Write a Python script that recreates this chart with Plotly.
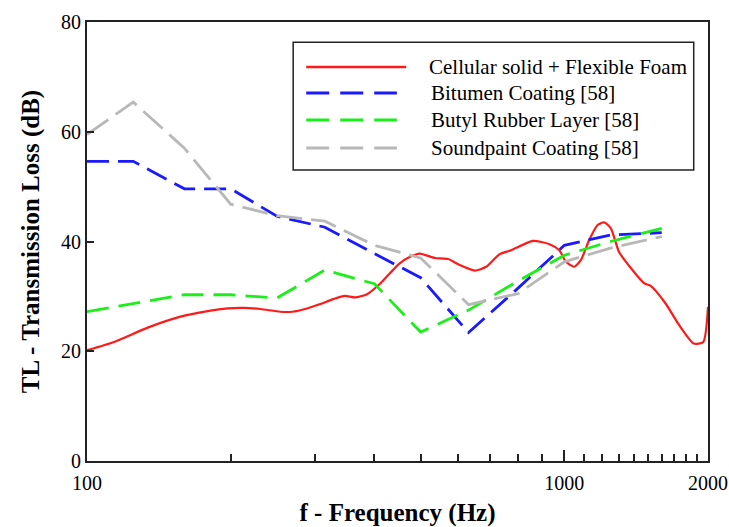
import plotly.graph_objects as go

# ---------------- data ----------------
red_f = [100, 114, 134, 157, 179, 197, 213, 231, 254, 269, 289, 308, 328, 347, 364, 386,
         411, 431, 452, 475, 498, 535, 571, 604, 649, 686, 732, 774, 859, 931, 976, 1008,
         1049, 1083, 1128, 1174, 1212, 1252, 1302, 1389, 1469, 1517, 1630, 1739, 1868, 1955, 2000]
red_tl = [20.2, 21.7, 24.3, 26.3, 27.3, 27.8, 27.9, 27.7, 27.2, 27.2, 27.8, 28.6, 29.5, 30.1, 29.8, 30.4,
          32.3, 34.2, 36.0, 37.2, 37.8, 37.0, 36.8, 35.7, 34.7, 35.4, 37.7, 38.4, 40.1, 39.5, 38.4, 36.3,
          35.4, 36.6, 40.3, 43.0, 43.5, 42.4, 38.1, 34.8, 32.4, 31.9, 28.7, 24.8, 21.4, 21.7, 28.1]

oct_f = [100, 125, 160, 200, 250, 315, 400, 500, 630, 800, 1000, 1250, 1600]
blue_tl = [54.6, 54.6, 49.6, 49.6, 44.6, 42.6, 37.8, 33.4, 23.4, 31.5, 39.3, 41.2, 41.6]
green_tl = [27.2, 28.7, 30.3, 30.3, 29.7, 34.8, 32.3, 23.5, 27.5, 32.8, 37.5, 40.0, 42.4]
gray_tl = [59.5, 65.4, 57.0, 46.8, 44.7, 43.7, 39.3, 37.0, 28.5, 30.5, 36.3, 38.8, 40.9]

names = ["Cellular solid + Flexible Foam", "Bitumen Coating [58]",
         "Butyl Rubber Layer [58]", "Soundpaint Coating [58]"]
colors = ["#ff1a1a", "#1a1aff", "#1aef1a", "#b8b8b8"]
dashes = ["solid", "22px,9px", "22px,10px", "26px,9px"]
legend_dashes = ["solid", "23px,11px", "23px,11px", "23px,11px"]
widths = [2.2, 2.8, 2.8, 2.8]

major_x = [100, 1000, 2000]
major_x_text = ["100", "1000", "2000"]
minor_x = [200, 300, 400, 500, 600, 700, 800, 900,
           1100, 1200, 1300, 1400, 1500, 1600, 1700, 1800, 1900]
y_ticks = [0, 20, 40, 60, 80]

FONT = "Liberation Serif, Times New Roman, serif"

fig = go.Figure()
series = [(red_f, red_tl), (oct_f, blue_tl), (oct_f, green_tl), (oct_f, gray_tl)]
for (xs, ys), nm, c, d, w in zip(series, names, colors, dashes, widths):
    fig.add_trace(go.Scatter(x=xs, y=ys, mode="lines", name=nm,
                             line=dict(color=c, dash=d, width=w,
                                       shape="spline" if d == "solid" else "linear",
                                       smoothing=0.6),
                             showlegend=False, cliponaxis=True))

# ---------------- manual legend ----------------
lx0, lx1, ly0, ly1 = 0.332, 0.977, 0.663, 0.954
fig.add_shape(type="rect", xref="paper", yref="paper", x0=lx0, x1=lx1, y0=ly0, y1=ly1,
              line=dict(color="#222222", width=1.5), fillcolor="white", layer="above")
row_y = [0.8975, 0.8383, 0.7768, 0.713]
for i, nm in enumerate(names):
    fig.add_shape(type="line", xref="paper", yref="paper", x0=0.353, x1=0.514 if i == 0 else 0.499,
                  y0=row_y[i], y1=row_y[i],
                  line=dict(color=colors[i], dash=legend_dashes[i], width=widths[i] + 0.3),
                  layer="above")
    fig.add_annotation(xref="paper", yref="paper", x=0.548 if i == 0 else 0.551, y=row_y[i],
                       text=nm, showarrow=False, xanchor="left", yanchor="middle",
                       font=dict(family=FONT, size=21, color="black"))

fig.update_layout(
    width=729, height=527,
    margin=dict(l=87, r=21, t=22, b=66, autoexpand=False),
    paper_bgcolor="white", plot_bgcolor="white",
    font=dict(family=FONT, size=20, color="black"),
)
fig.update_xaxes(
    type="log", range=[2, 3.30103], automargin=False,
    tickmode="array", tickvals=major_x, ticktext=major_x_text,
    ticks="inside", ticklen=11, tickwidth=1.5, tickcolor="#222222",
    minor=dict(tickmode="array", tickvals=minor_x, ticks="inside", ticklen=7,
               tickwidth=1.5, tickcolor="#222222", showgrid=False),
    showgrid=False, zeroline=False, ticklabelstandoff=3,
    showline=True, linecolor="#222222", linewidth=2, mirror=True,
    tickfont=dict(family=FONT, size=20, color="black"),
    title=dict(text="<b>f - Frequency (Hz)</b>", font=dict(family=FONT, size=25), standoff=12),
)
fig.update_yaxes(
    range=[0, 80], tickmode="array", tickvals=y_ticks, automargin=False,
    ticks="inside", ticklen=7, tickwidth=1.5, tickcolor="#222222",
    showgrid=False, zeroline=False,
    showline=True, linecolor="#222222", linewidth=2, mirror=True,
    tickfont=dict(family=FONT, size=20, color="black"),
    title=dict(text="<b>TL - Transmission Loss (dB)</b>", font=dict(family=FONT, size=25), standoff=14),
)

fig.write_html("out.html")
